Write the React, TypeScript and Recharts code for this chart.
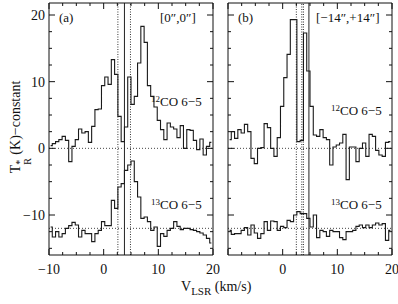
import { LineChart, Line, XAxis, YAxis, ReferenceLine } from 'recharts';

// channel centres (km/s)
const velocity = [
  -9.7, -9.1, -8.5, -7.9, -7.3, -6.7, -6.1, -5.5, -4.9, -4.3,
  -3.7, -3.1, -2.5, -1.9, -1.3, -0.7, -0.1, 0.5, 1.1, 1.7,
  2.3, 2.9, 3.5, 4.1, 4.7, 5.3, 5.9, 6.5, 7.1, 7.7,
  8.3, 8.9, 9.5, 10.1, 10.7, 11.3, 11.9, 12.5, 13.1, 13.7,
  14.3, 14.9, 15.5, 16.1, 16.7, 17.3, 17.9, 18.5, 19.1, 19.7,
];

// panel (a) [0",0"]
const co12a = [
  0.4, 0.7, 1.0, 1.3, 1.8, 1.2, -2.0, 0.3, 1.3, 2.9,
  2.3, 2.5, 0.9, 3.3, 5.8, 5.9, 9.4, 10.7, 9.6, 13.3,
  11.1, 4.8, 1.0, 3.2, 10.7, 6.6, 7.8, 12.8, 18.3, 15.9,
  9.4, 7.8, 6.2, 4.2, 2.8, 1.3, 3.8, 3.2, 2.9, 1.6,
  3.4, 0.0, 2.8, 2.7, 1.2, -0.2, 1.4, -1.0, 0.3, 0.9,
];
const co13a = [
  -11.8, -13.3, -12.5, -13.3, -12.8, -12.0, -11.6, -11.1, -11.5, -13.3,
  -12.3, -12.8, -12.8, -14.0, -12.8, -12.3, -11.0, -11.6, -11.6, -7.8,
  -9.0, -5.8, -5.3, -3.3, -2.5, -1.9, -5.0, -7.3, -10.5, -10.3,
  -11.0, -12.3, -11.8, -14.7, -12.8, -13.2, -12.3, -12.0, -11.0, -11.7,
  -12.2, -12.0, -12.0, -12.2, -12.3, -12.5, -12.7, -13.0, -13.5, -14.2,
];

// panel (b) [-14",+14"]
const co12b = [
  1.3, 2.5, 1.5, 2.8, 2.3, 3.6, 2.5, -1.5, -2.3, 0.0,
  0.1, 3.7, 3.1, 0.0, -1.2, 1.6, 6.3, 10.6, 14.1, 19.3,
  19.3, 1.0, 1.2, 17.3, 11.6, 6.3, 2.0, 1.8, 2.8, 1.6,
  1.3, -2.5, 0.2, 0.5, 0.8, 2.1, -4.7, 0.2, 0.2, -2.0,
  0.0, 0.8, -1.2, 2.1, 1.8, -0.3, -1.0, -1.2, 0.9, 1.0,
];
const co13b = [
  -12.3, -12.9, -12.8, -12.8, -12.3, -11.9, -13.0, -11.5, -12.7, -13.5,
  -12.8, -11.0, -12.3, -10.9, -11.0, -12.3, -11.7, -11.9, -10.8, -11.0,
  -10.0, -9.5, -9.8, -9.8, -10.5, -11.8, -10.0, -13.4, -12.3, -12.5,
  -13.2, -12.3, -12.5, -12.5, -13.4, -13.7, -12.5, -12.5, -12.3, -11.7,
  -11.5, -11.9, -11.5, -11.9, -11.5, -11.2, -11.5, -11.3, -13.8, -12.3,
];

const xTicks = [-10, -7.5, -5, -2.5, 0, 2.5, 5, 7.5, 10, 12.5, 15, 17.5, 20];
const yTicks = [-15, -12.5, -10, -7.5, -5, -2.5, 0, 2.5, 5, 7.5, 10, 12.5, 15, 17.5, 20];
const baselines = [0, -12];
const dottedA = [2.6, 4.9];
const solidA = [3.8];
const dottedB = [2.5, 3.5, 3.8];
const solidB = [4.8];

const font = '"Liberation Serif", "DejaVu Serif", serif';
const ink = '#111';

type Side = 'bottom' | 'top' | 'left' | 'right';

function axisTick(side: Side, labels: number[]) {
  return (props: any) => {
    const { x, y, payload } = props;
    const v = payload.value as number;
    const len = v % 10 === 0 ? 6 : 3;
    let x2 = x;
    let y2 = y;
    if (side === 'bottom') y2 = y - len;
    if (side === 'top') y2 = y + len;
    if (side === 'left') x2 = x + len;
    if (side === 'right') x2 = x - len;
    const text = labels.includes(v) ? (v < 0 ? '\u2212' + Math.abs(v) : String(v)) : null;
    return (
      <g>
        <line x1={x} y1={y} x2={x2} y2={y2} stroke={ink} strokeWidth={1} />
        {text && side === 'bottom' && (
          <text x={x} y={y + 19} textAnchor="middle" fontFamily={font} fontSize={14} fill={ink}>{text}</text>
        )}
        {text && side === 'left' && (
          <text x={x - 4} y={y + 5} textAnchor="end" fontFamily={font} fontSize={14} fill={ink}>{text}</text>
        )}
      </g>
    );
  };
}

interface PanelProps {
  co12: number[];
  co13: number[];
  width: number;
  margin: { top: number; right: number; bottom: number; left: number };
  leftWidth: number;
  xLabels: number[];
  yLabels: number[];
  dotted: number[];
  solid: number[];
}

function Panel({ co12, co13, width, margin, leftWidth, xLabels, yLabels, dotted, solid }: PanelProps) {
  const data = velocity.map((v, i) => ({ v, co12: co12[i], co13: co13[i] }));
  const common = { xAxisId: 'b', yAxisId: 'l' };
  return (
    <LineChart width={width} height={304} data={data} margin={margin}>
      <XAxis xAxisId="b" dataKey="v" type="number" domain={[-10, 20]} ticks={xTicks} interval={0}
        allowDataOverflow tickSize={0} tickMargin={0} tickLine={false} height={30} stroke={ink}
        tick={axisTick('bottom', xLabels)} />
      <XAxis xAxisId="t" orientation="top" dataKey="v" type="number" domain={[-10, 20]} ticks={xTicks} interval={0}
        allowDataOverflow tickSize={0} tickMargin={0} tickLine={false} height={1} stroke={ink}
        tick={axisTick('top', [])} />
      <YAxis yAxisId="l" type="number" domain={[-16, 21.8]} ticks={yTicks} interval={0}
        allowDataOverflow tickSize={0} tickMargin={0} tickLine={false} width={leftWidth} stroke={ink}
        tick={axisTick('left', yLabels)} />
      <YAxis yAxisId="r" orientation="right" type="number" domain={[-16, 21.8]} ticks={yTicks} interval={0}
        allowDataOverflow tickSize={0} tickMargin={0} tickLine={false} width={1} stroke={ink}
        tick={axisTick('right', [])} />
      {baselines.map((b) => (
        <ReferenceLine key={'h' + b} {...common} y={b} stroke="#444" strokeDasharray="1 2" />
      ))}
      {dotted.map((d) => (
        <ReferenceLine key={'d' + d} {...common} x={d} stroke="#333" strokeDasharray="1 1.5" />
      ))}
      {solid.map((d) => (
        <ReferenceLine key={'s' + d} {...common} x={d} stroke="#222" />
      ))}
      <Line {...common} dataKey="co12" type="step" stroke="#1a1a1a" strokeWidth={1.1} dot={false} isAnimationActive={false} />
      <Line {...common} dataKey="co13" type="step" stroke="#1a1a1a" strokeWidth={1.1} dot={false} isAnimationActive={false} />
    </LineChart>
  );
}

const label = (left: number, top: number, size = 13): React.CSSProperties => ({
  position: 'absolute', left, top, fontFamily: font, fontSize: size, lineHeight: 1, color: ink, whiteSpace: 'nowrap',
});

function Iso({ mass }: { mass: string }) {
  return (
    <span>
      <span style={{ fontSize: 9, verticalAlign: 4 }}>{mass}</span>CO 6{'\u2212'}5
    </span>
  );
}

export default function App() {
  return (
    <div style={{ position: 'absolute', left: 0, top: 0, width: 398, height: 304, background: '#fff' }}>
      <div style={{ position: 'absolute', left: 0, top: 0 }}>
        <Panel co12={co12a} co13={co13a} width={220} margin={{ top: 2, right: 6, bottom: 19, left: 9 }}
          leftWidth={40} xLabels={[-10, 0, 10, 20]} yLabels={[-10, 0, 10, 20]} dotted={dottedA} solid={solidA} />
      </div>
      <div style={{ position: 'absolute', left: 220, top: 0 }}>
        <Panel co12={co12b} co13={co13b} width={178} margin={{ top: 2, right: 5, bottom: 19, left: 0 }}
          leftWidth={8} xLabels={[0, 10, 20]} yLabels={[]} dotted={dottedB} solid={solidB} />
      </div>

      <div style={label(59, 11)}>(a)</div>
      <div style={label(160, 11)}>[0{'\u2033'},0{'\u2033'}]</div>
      <div style={label(238, 11)}>(b)</div>
      <div style={label(316, 11)}>[{'\u2212'}14{'\u2033'},+14{'\u2033'}]</div>

      <div style={label(151, 95)}><Iso mass="12" /></div>
      <div style={label(151, 198)}><Iso mass="13" /></div>
      <div style={label(331, 104)}><Iso mass="12" /></div>
      <div style={label(331, 198)}><Iso mass="13" /></div>

      <div style={{ ...label(20, 127, 14), transform: 'translate(-50%, -50%) rotate(-90deg)' }}>
        T<span style={{ display: 'inline-flex', flexDirection: 'column', fontSize: 10, lineHeight: '8px', verticalAlign: -3 }}>
          <span>*</span><span>R</span>
        </span> (K){'\u2212'}constant
      </div>
      <div style={label(181, 280, 14)}>
        V<span style={{ fontSize: 11, verticalAlign: -4 }}>LSR</span> (km/s)
      </div>
    </div>
  );
}
